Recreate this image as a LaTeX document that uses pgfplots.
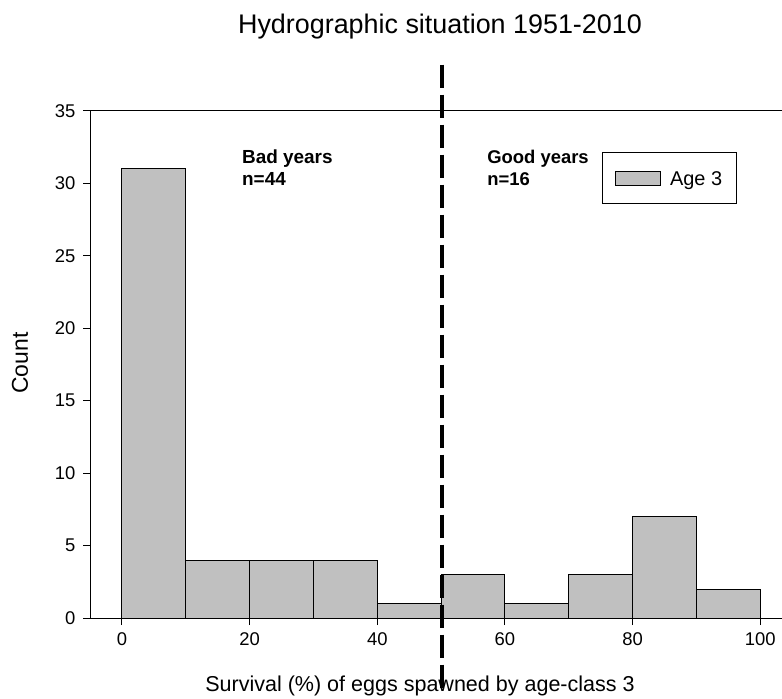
\documentclass[border=0pt]{standalone}
\usepackage{pgfplots}
\pgfplotsset{compat=1.18}
\usepackage{fontspec}
\setmainfont{Liberation Sans}
\definecolor{bargray}{RGB}{192,192,192}
\begin{document}
\begin{tikzpicture}[x=1bp,y=1bp]
\useasboundingbox (-90,-81) rectangle (692,618);
\begin{axis}[
  at={(0,0)}, anchor=south west,
  scale only axis, width=692bp, height=507bp,
  xmin=-5, xmax=103.4, ymin=0, ymax=35,
  axis lines*=left,
  axis line style={line width=1pt, -},
  xtick={0,20,40,60,80,100},
  ytick={0,5,10,15,20,25,30,35},
  xticklabel={\fontsize{18.5}{22}\selectfont\pgfmathprintnumber[assume math mode=true]{\tick}},
  yticklabel={\fontsize{18.5}{22}\selectfont\pgfmathprintnumber[assume math mode=true]{\tick}},
  tick align=outside, major tick length=7bp,
  tick style={line width=1pt, black},
  xticklabel style={yshift=-4bp},
  yticklabel style={xshift=-4bp},
  clip=false,
]
\addplot[ybar interval, fill=bargray, draw=black, line width=1pt] coordinates {
 (0,31) (10,4) (20,4) (30,4) (40,1) (50,3) (60,1) (70,3) (80,7) (90,2) (100,2)};
\addplot[black, line width=4bp, dash pattern=on 23bp off 7bp] coordinates {(50.2,38.2) (50.2,-4.9)};
\draw[line width=1pt] (rel axis cs:0,1) -- (rel axis cs:1,1);
\node[anchor=base west, font=\fontsize{19}{22}\selectfont\bfseries, inner sep=0pt] at (axis cs:18.8,31.4) {Bad years};
\node[anchor=base west, font=\fontsize{19}{22}\selectfont\bfseries, inner sep=0pt] at (axis cs:18.8,29.88) {n=44};
\node[anchor=base west, font=\fontsize{18.5}{22}\selectfont\bfseries, inner sep=0pt] at (axis cs:57.2,31.4) {Good years};
\node[anchor=base west, font=\fontsize{18.5}{22}\selectfont\bfseries, inner sep=0pt] at (axis cs:57.2,29.88) {n=16};
\draw[line width=1pt, fill=white] (rel axis cs:0.7399,0.9172) rectangle (rel axis cs:0.9345,0.8185);
\draw[line width=1pt, fill=bargray] (rel axis cs:0.7587,0.8797) rectangle (rel axis cs:0.8237,0.8521);
\node[anchor=base west, font=\fontsize{20}{22}\selectfont, inner sep=0pt] at (rel axis cs:0.838,0.854) {Age 3};
\end{axis}
\node[anchor=base, font=\fontsize{27}{30}\selectfont] at (350,584) {Hydrographic situation 1951-2010};
\node[anchor=base, font=\fontsize{21.6}{24}\selectfont] at (330,-74) {Survival (\%) of eggs spawned by age-class 3};
\node[anchor=base, font=\fontsize{23}{26}\selectfont, rotate=90] at (-62,255) {Count};
\end{tikzpicture}
\end{document}
